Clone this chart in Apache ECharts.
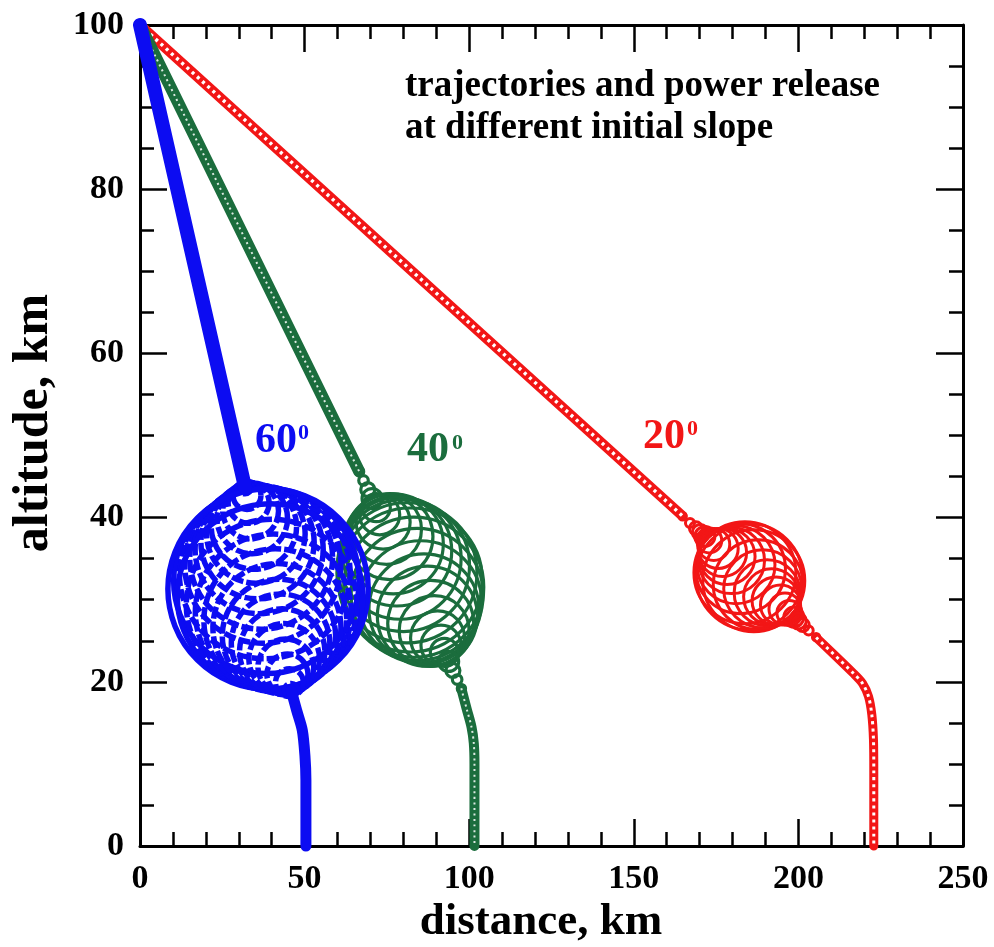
<!DOCTYPE html>
<html><head><meta charset="utf-8">
<script src="https://cdn.jsdelivr.net/npm/echarts@6/dist/echarts.min.js"></script>
<style>html,body{margin:0;padding:0;background:#fff}#c{width:994px;height:947px}</style>
</head><body><div id="c"></div>
<script>
// ---- tick labels / texts ----
const xTicks = [0, 50, 100, 150, 200, 250];
const yTicks = [0, 20, 40, 60, 80, 100];
const slopes = ['60', '40', '20'];
const titleX = 'distance, km';
const titleY = 'altitude, km';
const note = ['trajectories and power release', 'at different initial slope'];

// ---- trajectories [distance km, altitude km] ----
const fall60 = [[0, 100], [31.9, 43.7]];
const land60 = [[45.9, 19.0], [47.6, 16.5], [49.3, 14.1], [50.1, 11.0], [50.4, 8.0], [50.4, 0]];
const fall40 = [[0, 100], [66.6, 45.6]];
const land40 = [[97.6, 19.2], [99.3, 16.6], [100.7, 14.5], [101.4, 12.5], [101.6, 10.0], [101.6, 0]];
const fall20 = [[0, 100], [164.8, 40.2]];
const land20 = [[205.4, 25.4], [216.8, 21.0], [219.5, 19.8], [221.3, 18.2], [222.3, 16.0], [222.8, 13.0], [222.9, 9.0], [222.9, 0]];

// ---- power release rings [distance km, altitude km, ring radius (km of altitude)] ----
const release60 = [[31.9, 43.7, 0.8], [32.5, 42.7, 1.7], [33.0, 41.8, 2.5], [33.6, 40.8, 3.4], [34.1, 39.9, 4.3],
  [34.6, 38.9, 5.2], [35.2, 38.0, 6.0], [35.7, 37.0, 6.9], [36.2, 36.1, 7.8], [36.8, 35.1, 8.7], [37.3, 34.2, 9.5],
  [37.9, 33.2, 10.4], [38.4, 32.3, 11.3], [38.9, 31.3, 12.2], [39.5, 30.4, 11.3], [40.0, 29.4, 10.4], [40.5, 28.5, 9.5],
  [41.1, 27.5, 8.7], [41.6, 26.6, 7.8], [42.2, 25.6, 6.9], [42.7, 24.7, 6.0], [43.2, 23.7, 5.2], [43.8, 22.8, 4.3],
  [44.3, 21.8, 3.4], [44.8, 20.9, 2.5], [45.4, 19.9, 1.7], [45.9, 19.0, 0.8]];
const release40 = [[66.61, 45.63, 0.50], [67.90, 44.53, 0.58], [69.19, 43.42, 0.85], [70.49, 42.32, 1.22],
  [71.78, 41.22, 1.71], [72.81, 40.34, 2.44], [73.85, 39.45, 3.29], [74.88, 38.57, 4.26], [75.92, 37.69, 5.24],
  [76.95, 36.81, 6.09], [77.98, 35.93, 6.70], [79.02, 35.05, 7.43], [80.05, 34.16, 8.04], [81.09, 33.28, 8.53],
  [82.12, 32.40, 8.77], [83.15, 31.52, 8.53], [84.19, 30.64, 8.04], [85.22, 29.75, 7.43], [86.26, 28.87, 6.70],
  [87.29, 27.99, 6.09], [88.32, 27.11, 5.24], [89.36, 26.23, 4.26], [90.39, 25.35, 3.29], [91.43, 24.46, 2.44],
  [92.46, 23.58, 1.71], [93.75, 22.48, 1.22], [95.05, 21.38, 0.85], [96.34, 20.27, 0.58], [97.63, 19.17, 0.50]];
const release20 = [[164.81, 40.16, 0.45], [167.07, 39.34, 0.55], [168.87, 38.69, 0.79], [170.22, 38.20, 0.97],
  [171.58, 37.71, 1.22], [172.93, 37.22, 1.52], [174.28, 36.73, 1.95], [175.63, 36.24, 2.44], [176.99, 35.74, 2.92],
  [178.34, 35.25, 3.41], [179.69, 34.76, 4.02], [181.04, 34.27, 4.75], [182.40, 33.78, 5.48], [183.75, 33.29, 6.21],
  [185.10, 32.80, 6.46], [186.45, 32.31, 6.21], [187.80, 31.82, 5.48], [189.16, 31.33, 4.75], [190.51, 30.84, 4.02],
  [191.86, 30.35, 3.41], [193.21, 29.86, 2.92], [194.57, 29.36, 2.44], [195.92, 28.87, 1.95], [197.27, 28.38, 1.52],
  [198.62, 27.89, 1.22], [199.98, 27.40, 0.97], [201.33, 26.91, 0.79], [203.13, 26.26, 0.55], [205.39, 25.44, 0.45]];

const BLUE = '#0c0cf2', GREEN = '#1b6d3d', RED = '#f21616';
const SERIF = '"Liberation Serif","Times New Roman",serif';

function track(data, color, width, smooth) {
  return { type: 'line', data, smooth: smooth || 0, symbol: 'none', clip: false, silent: true,
    lineStyle: { color, width, cap: 'round', join: 'round' } };
}
function beads(data, width, dash, smooth, opacity) {
  return { type: 'line', data, smooth: smooth || 0, symbol: 'none', clip: false, silent: true,
    lineStyle: { color: '#ffffff', width, type: dash, cap: 'butt', opacity: opacity == null ? 1 : opacity } };
}
// rings: hollow circles centred on the trajectory, radius = released power (scaled on the altitude axis)
function rings(data, color, width, dash) {
  const rMax = Math.max.apply(null, data.map(d => d[2]));
  return {
    type: 'custom', data, clip: false, silent: true, encode: { x: 0, y: 1 },
    renderItem(params, api) {
      const c = api.coord([api.value(0), api.value(1)]);
      const rv = api.value(2);
      const r = Math.abs(api.size([0, rv])[1]);
      const useDash = dash && rv < 0.88 * rMax;
      return { type: 'circle', shape: { cx: c[0], cy: c[1], r },
        style: { fill: 'none', stroke: color, lineWidth: width, lineDash: useDash ? dash : null } };
    }
  };
}

const tickStyle = { color: '#000', width: 2.5 };
function xAx(pos, showLabel) {
  return { type: 'value', position: pos, min: xTicks[0], max: xTicks[xTicks.length - 1], interval: xTicks[1] - xTicks[0],
    axisLine: { show: true, onZero: false, lineStyle: { color: '#000', width: 3 } },
    axisTick: { show: true, inside: true, length: 27, lineStyle: tickStyle },
    minorTick: { show: true, splitNumber: 5, length: 14, lineStyle: tickStyle },
    splitLine: { show: false },
    axisLabel: { show: showLabel, margin: 16, color: '#000', fontFamily: SERIF, fontWeight: 'bold', fontSize: 34 } };
}
function yAx(pos, showLabel) {
  return { type: 'value', position: pos, min: yTicks[0], max: yTicks[yTicks.length - 1], interval: yTicks[1] - yTicks[0],
    axisLine: { show: true, onZero: false, lineStyle: { color: '#000', width: 3 } },
    axisTick: { show: true, inside: true, length: 27, lineStyle: tickStyle },
    minorTick: { show: true, splitNumber: 4, length: 14, lineStyle: tickStyle },
    splitLine: { show: false },
    axisLabel: { show: showLabel, margin: 16, color: '#000', fontFamily: SERIF, fontWeight: 'bold', fontSize: 34 } };
}

function txt(x, y, text, size, color, extra) {
  return Object.assign({ type: 'text', x, y, silent: true, z: 100,
    style: { text, font: 'bold ' + size + 'px ' + SERIF, fill: color, align: 'left', verticalAlign: 'middle' } }, extra || {});
}

const chart = echarts.init(document.getElementById('c'), null, { renderer: 'canvas' });
chart.setOption({
  animation: false,
  backgroundColor: '#ffffff',
  grid: { left: 140, right: 31, top: 25, bottom: 101, containLabel: false, outerBoundsMode: 'none' },
  xAxis: [xAx('bottom', true), xAx('top', false)],
  yAxis: [yAx('left', true), yAx('right', false)],
  series: [
    track(fall20, RED, 10), beads(fall20, 3.5, [3, 4]),
    track(land20, RED, 9, 0.3), beads(land20, 3, [3, 4], 0.3),
    rings(release20, RED, 3),
    track(fall40, GREEN, 12), beads(fall40, 2, [2, 3.5], 0, 0.85),
    track(land40, GREEN, 10, 0.3), beads(land40, 2, [2, 3.5], 0.3, 0.85),
    rings(release40, GREEN, 3.2),
    track(fall60, BLUE, 14),
    track(land60, BLUE, 11, 0.3),
    rings(release60, BLUE, 5.5, [12, 3])
  ],
  graphic: [
    txt(405, 86, note[0], 37, '#000'),
    txt(405, 128, note[1], 37, '#000'),
    txt(255, 441, slopes[0], 42, BLUE), txt(298, 433, '0', 22, BLUE),
    txt(407, 450, slopes[1], 42, GREEN), txt(452, 443, '0', 22, GREEN),
    txt(643, 437, slopes[2], 42, RED), txt(687, 429, '0', 22, RED),
    { type: 'text', x: 541, y: 922, silent: true,
      style: { text: titleX, font: 'bold 45px ' + SERIF, fill: '#000', align: 'center', verticalAlign: 'middle' } },
    { type: 'text', x: 34, y: 423, rotation: Math.PI / 2, silent: true,
      style: { text: titleY, font: 'bold 50px ' + SERIF, fill: '#000', align: 'center', verticalAlign: 'middle' } }
  ]
});
</script>
</body></html>
